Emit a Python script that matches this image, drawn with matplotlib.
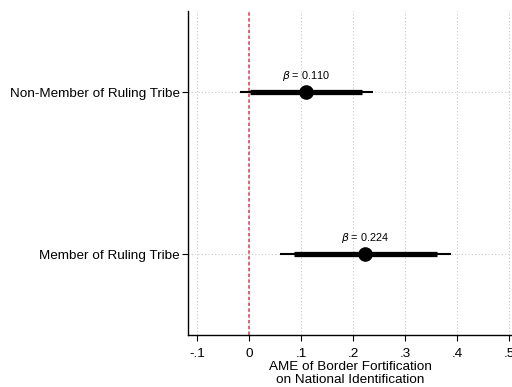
import matplotlib
matplotlib.use("Agg")
import matplotlib.pyplot as plt

plt.rcParams['font.family'] = ['Liberation Sans', 'DejaVu Sans']

groups = ["Member of Ruling Tribe", "Non-Member of Ruling Tribe"]
est = [0.224, 0.110]
ci95_lo = [0.059, -0.018]
ci95_hi = [0.388, 0.238]
ci90_lo = [0.086, 0.003]
ci90_hi = [0.362, 0.217]
xticks = [-0.1, 0, 0.1, 0.2, 0.3, 0.4, 0.5]
xticklabels = ["-.1", "0", ".1", ".2", ".3", ".4", ".5"]

fig = plt.figure(figsize=(5.12, 3.87), dpi=100)
ax = fig.add_axes([0.367, 0.134, 0.633, 0.837])

ypos = list(range(1, len(groups) + 1))
ax.grid(True, color='#c8c8c8', linestyle=(0, (1, 2)), linewidth=0.8)
ax.set_axisbelow(True)
ax.axvline(0, color='#d43d55', linestyle=(0, (2.2, 1.6)), linewidth=1.1, zorder=1)

ax.hlines(ypos, ci95_lo, ci95_hi, color='black', linewidth=1.5, zorder=3)
ax.hlines(ypos, ci90_lo, ci90_hi, color='black', linewidth=3.8, zorder=3)
ax.plot(est, ypos, 'o', color='black', markersize=9.5, zorder=4)
for x, y in zip(est, ypos):
    ax.text(x, y + 0.055, r"$\beta$ = %.3f" % x, ha='center', va='bottom', fontsize=7.8)

ax.set_yticks(ypos)
ax.set_yticklabels(groups, fontsize=9.7)
ax.set_xticks(xticks)
ax.set_xticklabels(xticklabels, fontsize=9.7)
ax.set_xlim(-0.1173, 0.5058)
ax.set_ylim(0.5, 2.5)
ax.tick_params(axis='y', direction='out', length=4, width=0.8, pad=2)
ax.tick_params(axis='x', direction='out', length=4, width=0.8, pad=5)
ax.set_xlabel("AME of Border Fortification\non National Identification", fontsize=9.7, labelpad=1, linespacing=1.15)

for s in ['top', 'right']:
    ax.spines[s].set_visible(False)
ax.spines['left'].set_linewidth(1.0)
ax.spines['bottom'].set_linewidth(1.0)

fig.savefig("out.png", dpi=100)
